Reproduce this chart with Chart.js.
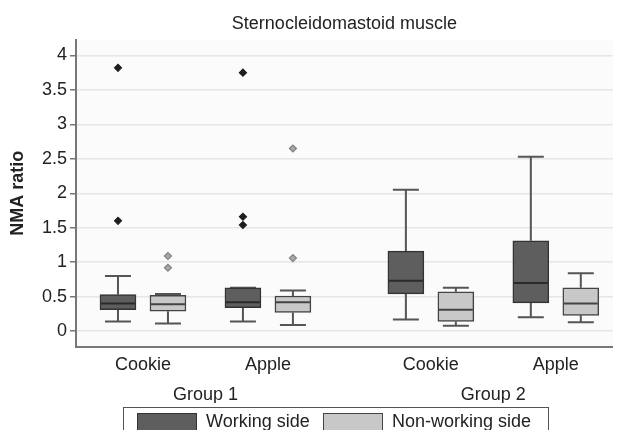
<!DOCTYPE html>
<html>
<head>
<meta charset="utf-8">
<script src="https://cdn.jsdelivr.net/npm/chart.js@4/dist/chart.umd.min.js"></script>
<style>
  html, body { margin: 0; padding: 0; background: #fff; overflow: hidden; }
  #wrap { position: relative; width: 618px; height: 430px; }
  #legend {
    position: absolute; left: 123px; top: 407px; width: 426px; height: 40px;
    border: 1.5px solid #555; box-sizing: border-box;
    font: 18px 'Liberation Sans', Arial, sans-serif; color: #222;
  }
  #legend .sw { position: absolute; top: 5px; width: 58px; height: 20px; border: 1.5px solid #333; }
  #legend .txt { position: absolute; top: 3px; white-space: nowrap; }
</style>
</head>
<body>
<div id="wrap">
  <canvas id="myBoxChart" width="618" height="430"></canvas>
  <div id="legend"></div>
</div>
<script>
// values, order: Group 1 Cookie, Group 1 Apple, Group 2 Cookie, Group 2 Apple
const groups = ['Group 1', 'Group 2'];
const foods = ['Cookie', 'Apple'];
const seriesNames = ['Working side', 'Non-working side'];

const workingMin = [0.14, 0.14, 0.17, 0.20];
const workingQ1 = [0.31, 0.34, 0.54, 0.41];
const workingMedian = [0.40, 0.42, 0.73, 0.70];
const workingQ3 = [0.53, 0.63, 1.16, 1.31];
const workingMax = [0.80, 0.63, 2.05, 2.53];
const workingOutliers = [[1.60, 3.82], [1.54, 1.66, 3.75], [], []];

const nonWorkingMin = [0.11, 0.09, 0.08, 0.13];
const nonWorkingQ1 = [0.29, 0.27, 0.14, 0.23];
const nonWorkingMedian = [0.39, 0.42, 0.31, 0.40];
const nonWorkingQ3 = [0.52, 0.51, 0.57, 0.63];
const nonWorkingMax = [0.54, 0.59, 0.63, 0.84];
const nonWorkingOutliers = [[0.92, 1.09], [1.06, 2.65], [], []];

const yTicks = [0, 0.5, 1, 1.5, 2, 2.5, 3, 3.5, 4];
const yTickLabels = ['0', '0.5', '1', '1.5', '2', '2.5', '3', '3.5', '4'];

document.addEventListener('DOMContentLoaded', () => {

  const series = [
    { min: workingMin, q1: workingQ1, med: workingMedian, q3: workingQ3, max: workingMax, out: workingOutliers,
      fill: '#5e5e5e', border: '#333', medColor: '#2a2a2a', outFill: '#1e1e1e', outBorder: '#1e1e1e' },
    { min: nonWorkingMin, q1: nonWorkingQ1, med: nonWorkingMedian, q3: nonWorkingQ3, max: nonWorkingMax, out: nonWorkingOutliers,
      fill: '#c8c8c8', border: '#444', medColor: '#444', outFill: '#a8a8a8', outBorder: '#808080' }
  ];

  // x layout on a linear axis: one unit between the two sides of a food
  function slot(i, side) {
    return Math.floor(i / 2) * 5.76 + (i % 2) * 2.5 + side;
  }
  const foodTicks = [0, 1, 2, 3].map(i => slot(i, 0) + 0.5);
  const foodLabels = [0, 1, 2, 3].map(i => foods[i % 2]);
  const groupTicks = groups.map((g, gi) => (slot(gi * 2, 0) + slot(gi * 2 + 1, 1)) / 2);
  const xMin = -0.84, xMax = 9.9;

  const datasets = [];
  series.forEach((s, si) => {
    datasets.push({
      type: 'bar',
      label: seriesNames[si],
      data: s.q1.map((v, i) => ({ x: slot(i, si), y: [v, s.q3[i]] })),
      backgroundColor: s.fill,
      borderColor: s.border,
      borderWidth: 1.5,
      borderSkipped: false,
      barThickness: 36,
      grouped: false,
      order: 2
    });
  });
  series.forEach((s, si) => {
    const pts = [];
    s.out.forEach((list, i) => list.forEach(v => pts.push({ x: slot(i, si), y: v })));
    datasets.push({
      type: 'scatter',
      label: seriesNames[si] + ' outliers',
      data: pts,
      pointStyle: 'rectRot',
      pointRadius: 3.5,
      backgroundColor: s.outFill,
      borderColor: s.outBorder,
      borderWidth: 1.2,
      order: 1
    });
  });

  //WHISKERS AND MEDIANS
  const boxLines = {
    id: 'boxLines',
    beforeDraw(chart) {
      const { ctx, chartArea: a } = chart;
      ctx.save();
      ctx.fillStyle = '#fbfbfb';
      ctx.fillRect(a.left, a.top, a.right - a.left, a.bottom - a.top);
      ctx.restore();
    },
    beforeDatasetsDraw(chart) {
      const { ctx, scales: { x, y } } = chart;
      ctx.save();
      ctx.strokeStyle = '#555';
      ctx.lineWidth = 2;
      series.forEach((s, si) => {
        s.med.forEach((m, i) => {
          const cx = x.getPixelForValue(slot(i, si));
          const pairs = [[s.q3[i], s.max[i]], [s.q1[i], s.min[i]]];
          pairs.forEach(([from, to]) => {
            const y0 = y.getPixelForValue(from), y1 = y.getPixelForValue(to);
            ctx.beginPath();
            ctx.moveTo(cx, y0); ctx.lineTo(cx, y1);
            ctx.moveTo(cx - 13, y1); ctx.lineTo(cx + 13, y1);
            ctx.stroke();
          });
        });
      });
      ctx.restore();
    },
    afterDatasetsDraw(chart) {
      const { ctx, scales: { x, y } } = chart;
      ctx.save();
      ctx.lineWidth = 2;
      series.forEach((s, si) => {
        ctx.strokeStyle = s.medColor;
        s.med.forEach((m, i) => {
          const cx = x.getPixelForValue(slot(i, si));
          const my = y.getPixelForValue(m);
          ctx.beginPath();
          ctx.moveTo(cx - 17, my); ctx.lineTo(cx + 17, my);
          ctx.stroke();
        });
      });
      ctx.restore();
    }
  };

  Chart.defaults.font.family = "'Liberation Sans', Arial, sans-serif";
  Chart.defaults.font.size = 18;
  Chart.defaults.color = '#222';

  // keep the plot edges fixed, labels never push them in
  function fixHeight(h) {
    return scale => { scale.height = h; scale.paddingLeft = 0; scale.paddingRight = 0; };
  }

  var ctx1 = document.getElementById('myBoxChart').getContext('2d');

  var chart1 = new Chart(ctx1, {
    type: 'bar',
    data: { datasets: datasets },
    plugins: [boxLines],
    options: {
      responsive: false,
      animation: false,
      layout: { padding: { left: 0, right: 1, top: 0, bottom: 27 } },
      plugins: {
        legend: { display: false },
        tooltip: { enabled: false },
        title: {
          display: true,
          text: 'Sternocleidomastoid muscle',
          fullSize: false,
          font: { size: 18, weight: 'normal' },
          padding: { top: 13, bottom: 5 }
        }
      },
      scales: {
        x: {
          type: 'linear',
          offset: false,
          min: xMin,
          max: xMax,
          grid: { display: false, drawTicks: false },
          border: { display: true, color: '#777', width: 2 },
          afterBuildTicks: scale => { scale.ticks = foodTicks.map(v => ({ value: v })); },
          afterFit: fixHeight(32),
          ticks: { autoSkip: false, maxRotation: 0, padding: 7, callback: (v, i) => foodLabels[i] }
        },
        x2: {
          type: 'linear',
          position: 'bottom',
          offset: false,
          weight: 1,
          min: xMin,
          max: xMax,
          grid: { display: false, drawTicks: false },
          border: { display: false },
          afterBuildTicks: scale => { scale.ticks = groupTicks.map(v => ({ value: v })); },
          afterFit: fixHeight(24),
          ticks: { autoSkip: false, maxRotation: 0, padding: 5, callback: (v, i) => groups[i] }
        },
        y: {
          min: -0.23,
          max: 4.23,
          grid: { color: '#e6e6e6', lineWidth: 1.5, tickColor: '#777', tickLength: 6 },
          border: { color: '#777', width: 2 },
          afterBuildTicks: scale => { scale.ticks = yTicks.map(v => ({ value: v })); },
          afterFit: scale => { scale.width = 76; },
          ticks: { padding: 3, callback: (v, i) => yTickLabels[i] },
          title: {
            display: true,
            text: 'NMA ratio',
            font: { size: 18, weight: 'bold' },
            padding: { top: 7, bottom: 0 }
          }
        }
      }
    }
  });

  //LEGEND
  const legend = document.getElementById('legend');
  const swatchLeft = [13, 199];
  const textLeft = [82, 268];
  series.forEach((s, si) => {
    const sw = document.createElement('span');
    sw.className = 'sw';
    sw.style.left = swatchLeft[si] + 'px';
    sw.style.background = s.fill;
    sw.style.borderColor = s.border;
    legend.appendChild(sw);
    const t = document.createElement('span');
    t.className = 'txt';
    t.style.left = textLeft[si] + 'px';
    t.textContent = seriesNames[si];
    legend.appendChild(t);
  });

});
</script>
</body>
</html>
